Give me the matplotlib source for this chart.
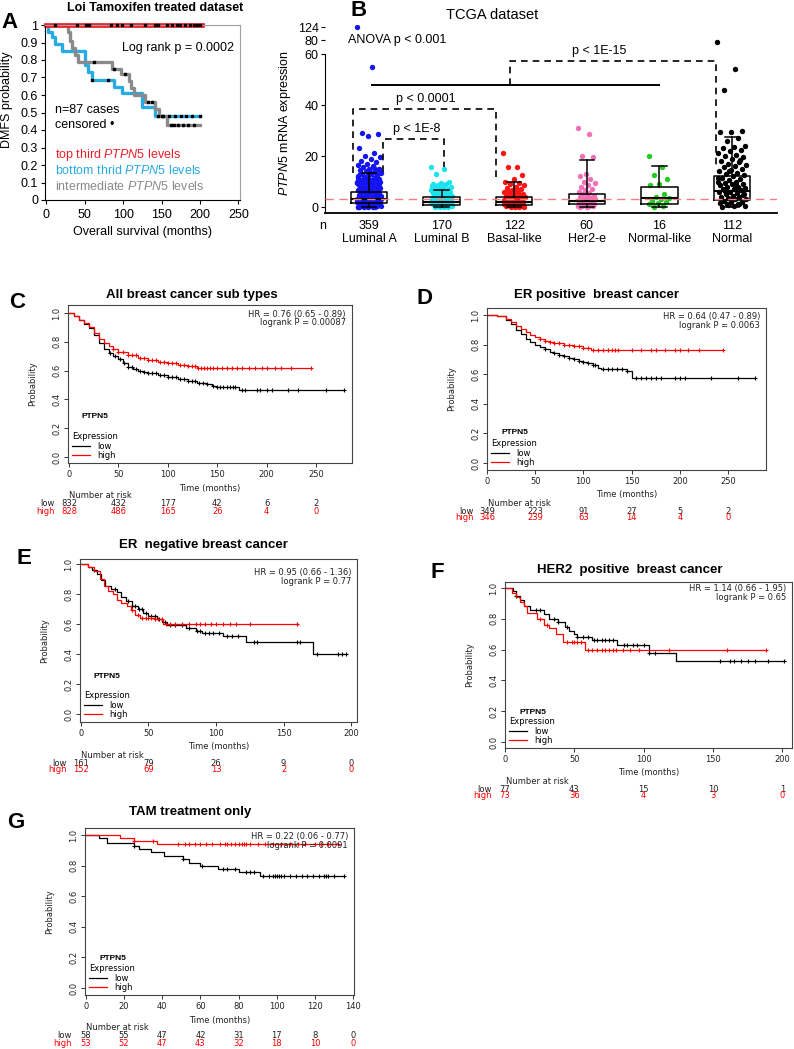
import numpy as np
import matplotlib.pyplot as plt
from matplotlib.ticker import FormatStrFormatter
from matplotlib.transforms import blended_transform_factory

W, H = 794, 1049
plt.rcParams['font.family'] = ['Liberation Sans', 'DejaVu Sans']
plt.rcParams['mathtext.fontset'] = 'custom'
plt.rcParams['mathtext.rm'] = 'Liberation Sans'
plt.rcParams['mathtext.it'] = 'Liberation Sans:italic'

# ---------------- panel A data (Loi tamoxifen) ----------------
a_top_t = [0, 203]
a_top_s = [1.0, 1.0]
a_top_cens = [12, 40, 52, 56, 84, 92, 98, 110, 129, 142, 146, 157, 164, 170, 174, 181, 187, 192, 196, 200]
a_bot_t = [0, 3, 7, 12, 21, 50, 54, 60, 88, 99, 124, 142, 200]
a_bot_s = [1, .96, .93, .89, .85, .77, .73, .685, .645, .61, .53, .48, .48]
a_bot_cens = [60, 80, 146, 152, 160, 168, 175, 182, 190, 200]
a_mid_t = [0, 28, 31, 34, 37, 41, 86, 97, 108, 110, 114, 128, 142, 147, 157, 200]
a_mid_s = [1, .96, .91, .87, .83, .79, .75, .72, .68, .64, .60, .56, .52, .48, .43, .43]
a_mid_cens = [62, 88, 103, 132, 138, 150, 162, 166, 172, 178, 185, 192]

# ---------------- panel B data (TCGA) ----------------
b_groups = ['Luminal A', 'Luminal B', 'Basal-like', 'Her2-e', 'Normal-like', 'Normal']
b_n = [359, 170, 122, 60, 16, 112]
b_q1 = [1.4, 0.8, 0.8, 1.2, 1.2, 2.7]
b_med = [3.1, 2.1, 1.9, 2.2, 3.4, 6.3]
b_q3 = [6.0, 3.8, 4.0, 5.0, 8.0, 12.3]
b_wlo = [0, 0, 0, 0, 0, 0]
b_whi = [13.5, 6.7, 9.9, 18.4, 16.0, 27.3]
lumA = [124, 55, 29, 28.5, 28, 23, 21, 20, 19.5, 19, 18, 17.5, 17, 16.5, 16, 15.5, 15, 15, 14.5, 14, 14,
        13.5, 13, 13, 12.5, 12, 12, 11.5, 11, 11, 10.5, 10.5, 10, 10, 9.5, 9.5, 9, 9, 8.5, 8.5, 8, 8,
        7.5, 7.5, 7, 7, 6.5, 6.5, 6, 6, 5.5, 5.5, 5, 5, 4.5, 4.5, 4, 4, 4, 3.5, 3.5, 3, 3, 3, 2.5, 2.5,
        2, 2, 2, 1.5, 1.5, 1.2, 1, 1, 0.8, 0.6, 0.5, 0.4, 0.3, 0.2, 0.1, 0, 0, 0,
        14.8, 13.8, 12.8, 11.8, 10.8, 9.8, 8.8, 7.8, 6.8, 5.8, 4.8, 3.8, 2.8, 1.8, 0.9, 0.2,
        13.2, 12.2, 11.2, 10.2, 9.2, 8.2, 7.2, 6.2, 5.2, 4.2, 3.2, 2.2, 1.4, 0.7, 0.3, 0.05,
        15.2, 11.6, 9.7, 8.3, 6.7, 5.3, 4.3, 3.3, 2.3, 1.7, 1.1, 0.6, 0.15, 0]
lumB = [15.5, 15, 13, 10, 9.5, 9, 9, 8.5, 8, 8, 7.5, 7, 7, 6.5, 6.5, 6, 6, 5.5, 5.5, 5, 5, 4.5, 4.5, 4,
        4, 3.5, 3.5, 3, 3, 3, 2.5, 2.5, 2, 2, 2, 1.5, 1.5, 1, 1, 1, 0.7, 0.5, 0.3, 0.2, 0.1, 0, 0,
        8.2, 6.8, 5.8, 4.8, 3.8, 2.8, 1.8, 1.2, 0.6, 0.15]
basal = [21, 15.5, 15.5, 12.5, 11, 10, 9.5, 9, 8.5, 8, 7.5, 7, 6.5, 6, 6, 5.5, 5, 5, 4.5, 4.5, 4, 4,
         3.5, 3.5, 3, 3, 2.5, 2.5, 2, 2, 2, 1.5, 1.5, 1, 1, 1, 0.7, 0.5, 0.3, 0.2, 0.1, 0, 0,
         7.2, 5.8, 4.8, 3.8, 2.8, 1.8, 1.2, 0.6, 0.15]
her2 = [31, 28.5, 20, 19.5, 13, 12, 11, 10, 9.5, 8.5, 8, 7, 6.5, 6, 5.5, 5, 4.5, 4, 4, 3.5, 3, 3,
        2.5, 2.5, 2, 2, 1.8, 1.5, 1.5, 1.2, 1, 1, 0.8, 0.6, 0.5, 0.4, 0.3, 0.2, 0.1, 0]
normlike = [20, 15.5, 12.5, 11, 9, 8.5, 5, 4, 3.5, 3, 2.5, 2, 1.5, 1, 0.5, 0]
normal = [77, 54, 46, 30, 29.5, 29.5, 27, 26, 24, 23.5, 23, 22.5, 22, 21, 20.5, 20, 19.5, 19, 18, 17.5,
          17, 16.5, 16, 15.5, 15, 14.5, 14, 13.5, 13, 12.5, 12, 11.5, 11, 10.5, 10, 10, 9.5, 9, 9, 8.5,
          8, 8, 7.5, 7, 7, 6.5, 6, 6, 5.5, 5, 5, 4.5, 4, 4, 3.5, 3, 3, 2.5, 2, 2, 1.5, 1, 1, 0.5, 0.3, 0,
          18.5, 14.2, 11.2, 8.7, 6.2, 4.8, 3.3, 2.2, 1.2, 0.6]
b_points = [lumA, lumB, basal, her2, normlike, normal]
b_cutoff = 3.1
# (x1, x2, top, left leg bottom, right leg bottom, label, label x, label y)
b_brackets = [(1.19, 2.03, 26.7, 13.7, 15.5, 'p < 1E-8', 1.66, 30.5),
              (0.78, 2.75, 38.4, 13.3, 11.8, 'p < 0.0001', 1.78, 42.3),
              (2.94, 5.78, 57.2, 47.8, 16.5, 'p < 1E-15', 4.17, 61.3)]
b_solid = (1.04, 5.0, 47.8)

# ---------------- KM plotter panels ----------------
c_low_t = [0, 5, 10, 15, 20, 25, 30, 35, 40, 45, 50, 55, 60, 65, 70, 75, 80, 90, 100, 110, 120, 130, 140, 145, 150, 172, 278]
c_low_s = [1, .98, .953, .925, .895, .85, .79, .75, .72, .70, .68, .655, .625, .61, .60, .59, .585, .57, .555, .54, .525, .515, .505, .49, .485, .465, .465]
c_high_t = [0, 5, 10, 15, 20, 25, 30, 35, 40, 45, 50, 60, 70, 80, 90, 100, 110, 120, 130, 245]
c_high_s = [1, .98, .955, .93, .90, .86, .82, .79, .77, .75, .73, .71, .69, .675, .66, .65, .64, .63, .62, .62]
c_low_cens = [42, 47, 52, 56, 60, 64, 68, 72, 76, 80, 84, 88, 92, 96, 100, 104, 108, 112, 116, 120, 124, 128, 132,
              136, 140, 146, 150, 153, 156, 160, 163, 166, 168, 175, 178, 190, 193, 200, 205, 222, 232, 260, 278]
c_high_cens = [45, 50, 55, 60, 64, 68, 72, 76, 80, 84, 88, 92, 96, 100, 104, 108, 112, 116, 120, 124, 128, 131, 134,
               137, 140, 143, 146, 150, 155, 160, 165, 170, 175, 182, 188, 195, 200, 208, 215, 225, 245]
c_risk_t = [0, 50, 100, 150, 200, 250]
c_risk_low = [832, 432, 177, 42, 6, 2]
c_risk_high = [828, 486, 165, 26, 4, 0]

d_low_t = [0, 10, 20, 25, 30, 35, 40, 45, 50, 55, 60, 65, 70, 75, 80, 85, 90, 95, 100, 105, 110, 115, 118, 145, 150, 278]
d_low_s = [1, .99, .965, .94, .90, .87, .84, .82, .80, .785, .77, .75, .74, .73, .72, .71, .70, .69, .68, .675, .665, .645, .635, .62, .575, .575]
d_high_t = [0, 10, 20, 25, 30, 35, 40, 45, 50, 55, 60, 65, 70, 80, 90, 100, 108, 245]
d_high_s = [1, .99, .97, .95, .925, .905, .885, .865, .85, .835, .825, .815, .81, .80, .79, .78, .765, .765]
d_low_cens = [60, 70, 75, 80, 85, 90, 95, 100, 105, 110, 112, 120, 125, 130, 135, 140, 145, 155, 160, 165, 170,
              175, 180, 195, 200, 205, 232, 260, 278]
d_high_cens = [55, 60, 65, 70, 75, 80, 85, 90, 95, 100, 105, 110, 115, 120, 125, 130, 133, 136, 150, 160, 170, 175,
               185, 195, 200, 208, 220, 245]
d_risk_t = [0, 50, 100, 150, 200, 250]
d_risk_low = [349, 223, 91, 27, 5, 2]
d_risk_high = [346, 239, 63, 14, 4, 0]

e_low_t = [0, 5, 8, 12, 15, 18, 22, 27, 30, 33, 38, 42, 46, 50, 56, 60, 64, 78, 85, 90, 105, 122, 172, 196]
e_low_s = [1, .98, .96, .93, .89, .85, .83, .81, .78, .75, .72, .70, .67, .65, .63, .61, .59, .575, .555, .54, .52, .48, .40, .40]
e_high_t = [0, 5, 10, 14, 17, 20, 24, 27, 30, 34, 37, 40, 44, 54, 61, 161]
e_high_s = [1, .98, .95, .90, .85, .82, .80, .76, .74, .72, .69, .66, .64, .63, .60, .60]
e_low_cens = [10, 25, 35, 38, 40, 43, 45, 48, 52, 55, 58, 62, 66, 70, 75, 80, 86, 88, 92, 95, 98, 102, 108, 112,
              116, 128, 130, 160, 162, 175, 190, 193, 196]
e_high_cens = [38, 42, 45, 48, 50, 52, 55, 57, 60, 63, 66, 70, 75, 80, 85, 88, 92, 96, 100, 105, 110, 115, 125, 160]
e_risk_t = [0, 50, 100, 150, 200]
e_risk_low = [161, 79, 26, 9, 0]
e_risk_high = [152, 69, 13, 2, 0]

f_low_t = [0, 6, 8, 11, 14, 18, 28, 32, 38, 43, 46, 50, 52, 63, 81, 104, 123, 201]
f_low_s = [1, .98, .95, .92, .88, .855, .83, .80, .78, .75, .72, .70, .68, .66, .63, .58, .525, .525]
f_high_t = [0, 5, 8, 11, 14, 16, 23, 28, 32, 37, 42, 58, 188]
f_high_s = [1, .97, .94, .91, .88, .84, .80, .76, .74, .70, .65, .60, .60]
f_low_cens = [8, 22, 25, 35, 38, 45, 52, 56, 60, 64, 66, 70, 72, 75, 78, 86, 88, 92, 95, 100, 104, 108, 155, 162,
              165, 170, 175, 180, 190, 201]
f_high_cens = [25, 30, 45, 48, 50, 52, 55, 60, 63, 66, 70, 72, 75, 78, 80, 85, 90, 97, 118, 160, 188]
f_risk_t = [0, 50, 100, 150, 200]
f_risk_low = [77, 43, 15, 10, 1]
f_risk_high = [73, 36, 4, 3, 0]

g_low_t = [0, 7, 11, 25, 28, 34, 41, 51, 54, 60, 69, 80, 91, 135]
g_low_s = [1, .98, .95, .93, .91, .89, .86, .845, .82, .80, .78, .76, .73, .73]
g_high_t = [0, 18, 25, 37, 132]
g_high_s = [1, .98, .96, .94, .94]
g_low_cens = [25, 51, 61, 72, 74, 78, 84, 86, 88, 93, 96, 98, 99, 100, 101, 102, 104, 107, 110, 113, 116, 119,
              122, 125, 126, 127, 130, 135]
g_high_cens = [25, 35, 48, 52, 54, 57, 60, 63, 66, 70, 73, 74, 76, 78, 80, 82, 83, 84, 86, 90, 94, 98, 102, 107,
               111, 115, 120, 123, 127, 132]
g_risk_t = [0, 20, 40, 60, 80, 100, 120, 140]
g_risk_low = [58, 55, 47, 42, 31, 17, 8, 0]
g_risk_high = [53, 52, 47, 43, 32, 18, 10, 0]

fig = plt.figure(figsize=(W / 100, H / 100), dpi=100)


def rect(l, t, r, b):
    return [l / W, 1 - b / H, (r - l) / W, (b - t) / H]


def ptxt(x, y, s, **kw):
    kw.setdefault('va', 'center')
    return fig.text(x / W, 1 - y / H, s, **kw)


def censor_y(t, s, c):
    idx = np.searchsorted(np.asarray(t), c, side='right') - 1
    return np.asarray(s)[idx]


# ================= A =================
axA = fig.add_axes(rect(45, 25, 240, 200))
axA.step(a_bot_t, a_bot_s, where='post', color='#29abe2', lw=2.4)
axA.step(a_mid_t, a_mid_s, where='post', color='#8a8a8a', lw=2.4)
axA.step(a_top_t, a_top_s, where='post', color='#e8202a', lw=3.4, clip_on=False)
for t, s, c in ((a_top_t, a_top_s, a_top_cens), (a_bot_t, a_bot_s, a_bot_cens), (a_mid_t, a_mid_s, a_mid_cens)):
    axA.plot(c, censor_y(t, s, c), ls='none', marker='s', ms=1.6, color='black', clip_on=False, zorder=5)
axA.set_xlim(-1.5, 252)
axA.set_ylim(0, 1)
axA.set_xticks([0, 50, 100, 150, 200, 250])
axA.set_yticks(np.arange(0, 1.01, 0.1))
axA.yaxis.set_major_formatter(FormatStrFormatter('%g'))
axA.tick_params(labelsize=9, length=3, pad=2)
axA.tick_params(axis='x', pad=3.5)
for sp in ('top', 'right'):
    axA.spines[sp].set_color('#a0a0a0')
    axA.spines[sp].set_linewidth(0.8)
axA.set_ylabel('DMFS probability', fontsize=9)
axA.yaxis.set_label_coords(-32 / 195, 0.57)
axA.set_xlabel('Overall survival (months)', fontsize=9)
axA.xaxis.set_label_coords(0.5, -32 / 175)
axA.xaxis.label.set_va('center')
ptxt(9, 22, 'A', fontsize=16, fontweight='bold', ha='center')
ptxt(155, 8, 'Loi Tamoxifen treated dataset', fontsize=9, fontweight='bold', ha='center')
ptxt(122, 48, 'Log rank p = 0.0002', fontsize=9)
ptxt(55, 110, 'n=87 cases', fontsize=9)
ptxt(55, 125, 'censored \u2022', fontsize=9)
ptxt(55, 155, r'top third $\mathit{PTPN5}$ levels', fontsize=9, color='#e8202a')
ptxt(55, 171, r'bottom thrid $\mathit{PTPN5}$ levels', fontsize=9, color='#29abe2')
ptxt(55, 187, r'intermediate $\mathit{PTPN5}$ levels', fontsize=9, color='#8a8a8a')

# ================= B =================
b_colors = ['#1414f0', '#18e4f0', '#ff1414', '#f270b8', '#22cc22', '#000000']
b_spread = [0.17, 0.15, 0.15, 0.12, 0.15, 0.2]


def squash(v):
    return np.interp(v, [0, 60, 80, 124, 200], [0, 60, 65.5, 70.6, 79.4])


axB = fig.add_axes(rect(325, 25, 777, 213))
for i, (vals, col, sp) in enumerate(zip(b_points, b_colors, b_spread)):
    n = len(vals)
    off = ((np.arange(n) * 0.618034) % 1 - 0.5) * 2 * sp
    axB.scatter(i + 1 + off, squash(vals), s=15, color=col, lw=0, zorder=2)
stats = [dict(med=m, q1=a, q3=b, whislo=lo, whishi=hi, fliers=[])
         for m, a, b, lo, hi in zip(b_med, b_q1, b_q3, b_wlo, b_whi)]
axB.bxp(stats, positions=range(1, 7), widths=0.5, showfliers=False, manage_ticks=False,
        boxprops=dict(color='black', lw=1.1), medianprops=dict(color='black', lw=1.5),
        whiskerprops=dict(color='black', lw=1.1), capprops=dict(color='black', lw=1.1),
        capwidths=0.2, zorder=4)
axB.axhline(b_cutoff, color='#f08080', ls=(0, (6, 4)), lw=1, zorder=5)
for x1, x2, top, lb, rb, lab, lx, ly in b_brackets:
    axB.plot([x1, x1, x2, x2], [lb, top, top, rb], color='black', ls=(0, (4, 3)), lw=1.2, zorder=5)
    axB.text(lx, ly, lab, fontsize=9, ha='center', va='center')
axB.plot(b_solid[:2], [b_solid[2]] * 2, color='black', lw=1.4, zorder=5)
axB.text(0.71, 65.5, 'ANOVA p < 0.001', fontsize=9, ha='left', va='center')
axB.set_xlim(0.394, 6.62)
axB.set_ylim(-2.35, 71.4)
axB.set_yticks([0, 20, 40, 60, squash(80), squash(124)], labels=['0', '20', '40', '60', '80', '124'])
axB.set_xticks(range(1, 7), labels=[f'{n}\n{g}' for n, g in zip(b_n, b_groups)])
axB.tick_params(axis='x', length=0, pad=5, labelsize=9)
axB.tick_params(axis='y', length=3, pad=1.5, labelsize=9)
for lbl in axB.get_xticklabels():
    lbl.set_linespacing(1.1)
for sp in ('top', 'right'):
    axB.spines[sp].set_visible(False)
axB.spines['left'].set_bounds(-2.35, 60)
axB.spines['bottom'].set_linewidth(1.3)
axB.set_ylabel(r'$\mathit{PTPN5}$ mRNA expression', fontsize=9)
axB.yaxis.set_label_coords(-32 / 452, 0.48)
ptxt(323, 226, 'n', fontsize=9, ha='center')
ptxt(492, 15, 'TCGA dataset', fontsize=10.5, ha='center')
ptxt(359, 11, 'B', fontsize=16, fontweight='bold', ha='center')


# ================= KM plotter panels =================
def km_panel(frame, xlim, ylim, xticks, low, high, cens, risk, hr, title, title_xy, letter, letter_xy,
             gene_dy, hr_dy=9):
    l, t, r, b = frame
    ax = fig.add_axes(rect(l, t, r, b))
    handles = []
    for (tt, ss), cc, col, name in ((low, cens[0], 'black', 'low'), (high, cens[1], '#ff0000', 'high')):
        ln, = ax.step(tt, ss, where='post', color=col, lw=0.9, label=name)
        ax.plot(cc, censor_y(tt, ss, cc), ls='none', marker='+', ms=3.4, mew=0.8, color=col)
        handles.append(ln)
    ax.set_xlim(*xlim)
    ax.set_ylim(*ylim)
    ax.set_xticks(xticks)
    ax.set_yticks([0, .2, .4, .6, .8, 1.0])
    ax.yaxis.set_major_formatter(FormatStrFormatter('%.1f'))
    ax.tick_params(labelsize=6, labelfontfamily='DejaVu Sans', length=3, pad=2, width=0.7,
                   color='#333333', labelcolor='#222222')
    ax.tick_params(axis='y', labelrotation=90)
    for lbl in ax.get_yticklabels():
        lbl.set_va('center')
    for sp in ax.spines.values():
        sp.set_color('#444444')
        sp.set_linewidth(0.8)
    ax.set_xlabel('Time (months)', fontsize=6, family='DejaVu Sans', color='#222222')
    ax.xaxis.set_label_coords(0.5, -25 / (b - t))
    ax.xaxis.label.set_va('center')
    ax.set_ylabel('Probability', fontsize=6, family='DejaVu Sans', color='#222222')
    ax.yaxis.set_label_coords(-35 / (r - l), 0.5)
    ax.yaxis.label.set_va('center')
    ax.legend(handles=handles, title='Expression', loc='lower left',
              bbox_to_anchor=(4 / (r - l), 3 / (b - t)), frameon=False,
              prop={'family': 'DejaVu Sans', 'size': 6},
              title_fontproperties={'family': 'DejaVu Sans', 'size': 6},
              handlelength=2.2, handletextpad=0.8, labelspacing=0.05,
              borderaxespad=0, borderpad=0, alignment='left')
    ptxt(l + 14, b - gene_dy, 'PTPN5', fontsize=6, fontweight='bold')
    ptxt(r - 6, t + hr_dy, hr[0], fontsize=6, family='DejaVu Sans', ha='right', color='#222222')
    ptxt(r - 6, t + hr_dy + 8, hr[1], fontsize=6, family='DejaVu Sans', ha='right', color='#222222')
    ptxt(l + 1, b + 33, 'Number at risk', fontsize=6, family='DejaVu Sans', ha='left', color='#222222')
    ptxt(l - 13, b + 41, 'low', fontsize=6, family='DejaVu Sans', ha='right', color='#222222')
    ptxt(l - 13, b + 48, 'high', fontsize=6, family='DejaVu Sans', ha='right', color='#ff0000')
    tr = blended_transform_factory(ax.transData, fig.transFigure)
    for x, nl, nh in zip(*risk):
        ax.text(x, 1 - (b + 41) / H, str(nl), transform=tr, fontsize=6, family='DejaVu Sans',
                ha='center', va='center', color='#222222')
        ax.text(x, 1 - (b + 48) / H, str(nh), transform=tr, fontsize=6, family='DejaVu Sans',
                ha='center', va='center', color='#ff0000')
    ptxt(*title_xy, title, fontsize=9.5, fontweight='bold', ha='center')
    ptxt(*letter_xy, letter, fontsize=16, fontweight='bold', ha='center')
    return ax


km_panel((68, 305, 352, 463), (-1, 286.4), (-0.042, 1.056), [0, 50, 100, 150, 200, 250],
         (c_low_t, c_low_s), (c_high_t, c_high_s), (c_low_cens, c_high_cens),
         (c_risk_t, c_risk_low, c_risk_high), ('HR = 0.76 (0.65 - 0.89)', 'logrank P = 0.00087'),
         'All breast cancer sub types', (192, 295), 'C', (17, 303), gene_dy=46)
km_panel((487, 308, 766, 470), (0, 289.4), (-0.047, 1.047), [0, 50, 100, 150, 200, 250],
         (d_low_t, d_low_s), (d_high_t, d_high_s), (d_low_cens, d_high_cens),
         (d_risk_t, d_risk_low, d_risk_high), ('HR = 0.64 (0.47 - 0.89)', 'logrank P = 0.0063'),
         'ER positive  breast cancer', (597, 295), 'D', (425, 299), gene_dy=37)
km_panel((80, 559, 357, 722), (-0.7, 204.4), (-0.053, 1.033), [0, 50, 100, 150, 200],
         (e_low_t, e_low_s), (e_high_t, e_high_s), (e_low_cens, e_high_cens),
         (e_risk_t, e_risk_low, e_risk_high), ('HR = 0.95 (0.66 - 1.36)', 'logrank P = 0.77'),
         'ER  negative breast cancer', (203, 545), 'E', (24, 559), gene_dy=45, hr_dy=14)
km_panel((505, 582, 792, 748), (0, 207), (-0.039, 1.039), [0, 50, 100, 150, 200],
         (f_low_t, f_low_s), (f_high_t, f_high_s), (f_low_cens, f_high_cens),
         (f_risk_t, f_risk_low, f_risk_high), ('HR = 1.14 (0.66 - 1.95)', 'logrank P = 0.65'),
         'HER2  positive  breast cancer', (630, 570), 'F', (437, 573), gene_dy=35, hr_dy=7)
km_panel((85, 828, 354, 995), (-0.5, 140.5), (-0.046, 1.046), [0, 20, 40, 60, 80, 100, 120, 140],
         (g_low_t, g_low_s), (g_high_t, g_high_s), (g_low_cens, g_high_cens),
         (g_risk_t, g_risk_low, g_risk_high), ('HR = 0.22 (0.06 - 0.77)', 'logrank P = 0.0091'),
         'TAM treatment only', (190, 812), 'G', (16, 823), gene_dy=37)

fig.savefig('out.png', dpi=100)
